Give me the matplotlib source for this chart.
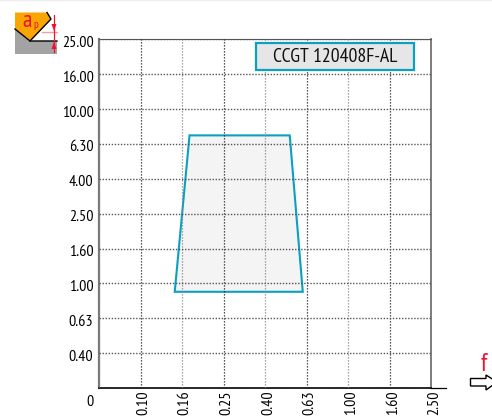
import matplotlib
matplotlib.use("Agg")
import matplotlib.pyplot as plt
from matplotlib.patches import Polygon, Rectangle
from matplotlib.transforms import ScaledTranslation

plt.rcParams['font.family'] = ['PT Sans Narrow', 'Liberation Sans', 'DejaVu Sans']

# feed range f (x) and depth of cut ap (y)
f_ticks = [0.0631, 0.10, 0.158, 0.251, 0.398, 0.631, 1.0, 1.585, 2.51]
f_labels = ['', '0.10', '0.16', '0.25', '0.40', '0.63', '1.00', '1.60', '2.50']
ap_ticks = [0.251, 0.398, 0.631, 1.0, 1.585, 2.51, 3.98, 6.31, 10.0, 15.85, 25.1]
ap_labels = ['0', '0.40', '0.63', '1.00', '1.60', '2.50', '4.00', '6.30', '10.00', '16.00', '25.00']
area_f = [0.146, 0.603, 0.522, 0.172]
area_ap = [0.895, 0.895, 7.07, 7.07]
insert_name = 'CCGT 120408F-AL'

W, H = 492, 419
BLUE = '#0aa0c0'
RED = '#f01030'

fig = plt.figure(figsize=(W / 100, H / 100), dpi=100)
ax = fig.add_axes([99 / W, 1 - 388 / H, (431.5 - 99) / W, (388 - 39.5) / H])
ax.set_xscale('log')
ax.set_yscale('log')
ax.set_xlim(f_ticks[0], f_ticks[-1])
ax.set_ylim(ap_ticks[0], ap_ticks[-1])

ax.set_xticks(f_ticks)
ax.set_xticklabels(f_labels, rotation=90, fontsize=11.5)
ax.set_yticks(ap_ticks)
ax.set_yticklabels(ap_labels, fontsize=11.5)
ax.minorticks_off()
ax.tick_params(length=0, pad=4)
ax.tick_params(axis='x', pad=2)
ax.grid(True, axis='y', color='#555555', linestyle=(0, (1, 1.2)), linewidth=1.0)
ax.grid(True, axis='x', color='#222222', linestyle=(0, (1, 1.4)), linewidth=0.9)
ax.set_axisbelow(False)

# every second vertical grid line looks lighter in the original
for i, line in enumerate(ax.get_xgridlines()):
    if i % 2 == 0:
        line.set_color('#888888')

# nudge labels by a few pixels
for lab in ax.get_xticklabels():
    lab.set_transform(lab.get_transform() + ScaledTranslation(3 / 100, 0, fig.dpi_scale_trans))
for lab in ax.get_yticklabels():
    dy = 12 if lab.get_text() == '0' else 2
    lab.set_transform(lab.get_transform() + ScaledTranslation(0, -dy / 100, fig.dpi_scale_trans))

ax.fill(area_f, area_ap, facecolor='#f4f4f4', edgecolor=BLUE, linewidth=1.5, zorder=1)

ax.spines['left'].set_color('#777777')
ax.spines['left'].set_linewidth(1.6)
ax.spines['right'].set_color('#666666')
ax.spines['right'].set_linewidth(1.2)
ax.spines['top'].set_color('#555555')
ax.spines['bottom'].set_color('black')
ax.spines['bottom'].set_linewidth(1.2)

# overlay in pixel coordinates for the insert icon, name box and arrow
ov = fig.add_axes([0, 0, 1, 1], facecolor='none')
ov.set_xlim(0, W)
ov.set_ylim(H, 0)
ov.axis('off')

ov.plot([0, W], [0.5, 0.5], color='#eeeeee', lw=1)
ov.plot([431, 446], [388, 388], color='black', lw=0.9)

ov.add_patch(Polygon([(15, 29), (30, 41), (57, 41), (57, 54), (15, 54)], facecolor='#a3a3a3', edgecolor='none'))
ov.add_patch(Polygon([(15, 12.5), (47, 12.5), (51, 19), (30, 41), (15, 29)], facecolor='#f9a602', edgecolor='none'))
ov.plot([15, 30, 57], [29, 41, 41], color='black', lw=1)
ov.plot([30, 51, 47], [41, 19, 12.5], color='black', lw=1)
ov.plot([42, 57], [32, 32], color='#f29aa5', lw=1)
ov.plot([54, 54], [15, 52], color=RED, lw=0.9)
ov.add_patch(Polygon([(51.5, 24), (56.5, 24), (54, 31)], facecolor=RED, edgecolor='none'))
ov.add_patch(Polygon([(51.5, 49), (56.5, 49), (54, 42)], facecolor=RED, edgecolor='none'))
ov.text(22.5, 27, 'a', color=RED, fontsize=17)
ov.text(33, 28, 'p', color=RED, fontsize=8)

ov.add_patch(Rectangle((256, 43), 158, 27, facecolor='#e6e6e6', edgecolor=BLUE, linewidth=1.6))
ov.text(335, 57.5, insert_name, ha='center', va='center', fontsize=14.2, color='#111111')

ov.text(484, 364, 'f', color=RED, fontsize=18, ha='center', va='center')
ov.add_patch(Polygon([(470.5, 378.5), (486, 378.5), (486, 375), (497, 382), (486, 390), (486, 386), (470.5, 386)],
                     facecolor='white', edgecolor='black', linewidth=1, clip_on=True))

fig.savefig('out.png', dpi=100)
